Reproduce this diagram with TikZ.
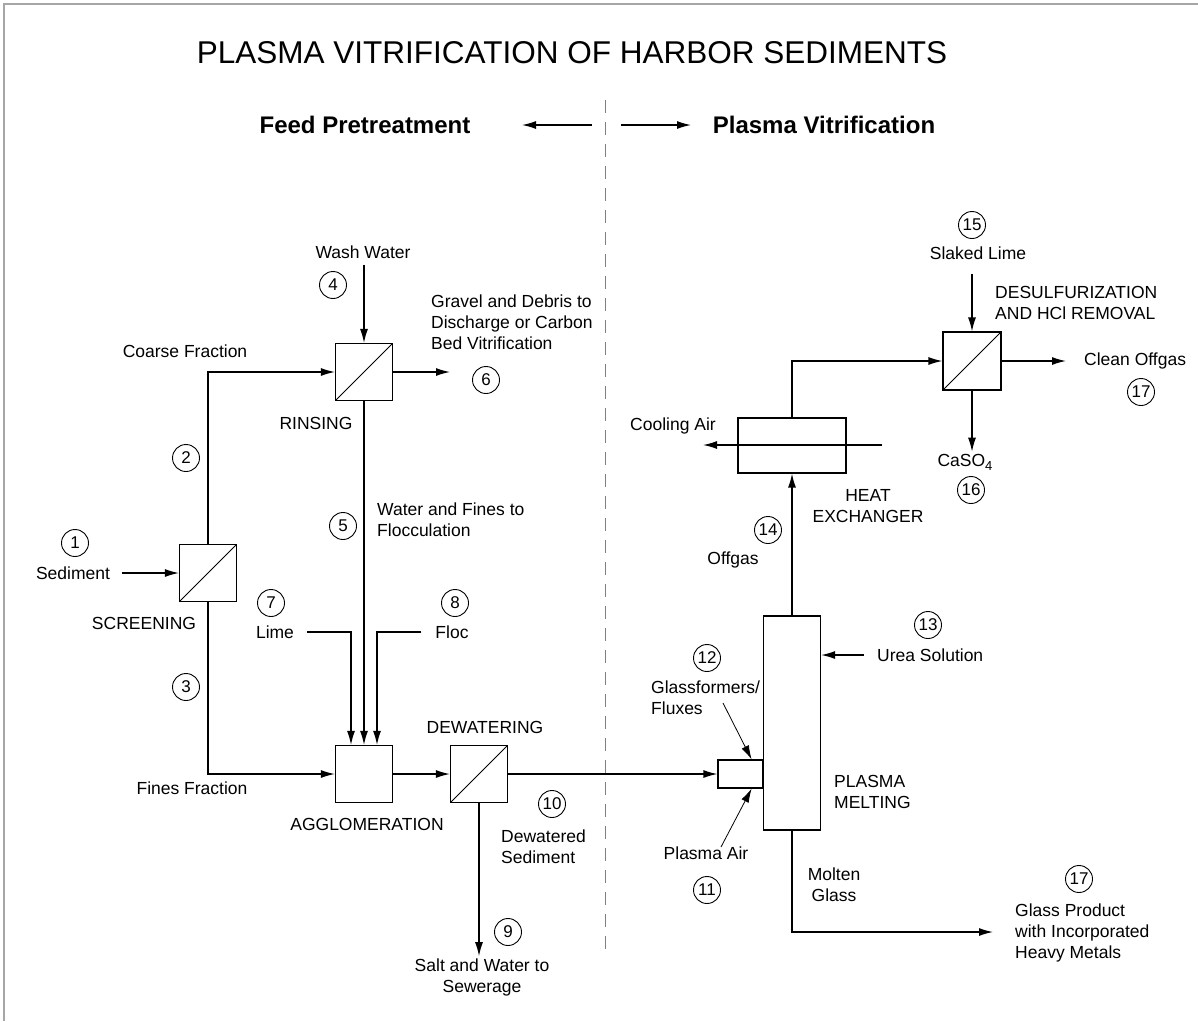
\documentclass[tikz,border=0pt]{standalone}
\usepackage{fontspec}
\setmainfont{Liberation Sans}
\usetikzlibrary{arrows.meta, positioning}

\begin{document}
\begin{tikzpicture}[x=1pt,y=-1pt,
    lbl/.style={font=\fontsize{17.5}{21}\selectfont,inner sep=2pt,align=center},
    lbll/.style={lbl,align=left,anchor=west},
    unitbox/.style={draw,line width=1.2pt,minimum width=57,minimum height=57,inner sep=0pt},
    sepbox/.style={unitbox,path picture={\draw[line width=1pt] (path picture bounding box.south west) -- (path picture bounding box.north east);}},
    num/.style={draw,circle,line width=0.9pt,minimum size=27,inner sep=0pt,font=\fontsize{17}{17}\selectfont},
    flow/.style={-{Latex[length=14pt,width=8pt]},line width=1.3pt}]

    \useasboundingbox (0,0) rectangle (1198,1021);
    \draw[gray!70,line width=2pt] (4,1021) -- (4,4) -- (1198,4);

    % Title and sections
    \node[font=\fontsize{31.5}{36}\selectfont] (title) at (572,53) {PLASMA VITRIFICATION OF HARBOR SEDIMENTS};
    \node[font=\bfseries\fontsize{24}{28}\selectfont] (fp) at (365,125) {Feed Pretreatment};
    \node[font=\bfseries\fontsize{24}{28}\selectfont] (pv) at (824,125) {Plasma Vitrification};
    \coordinate (hl1) at (592,125); \coordinate (hl2) at (522,125);
    \coordinate (hr1) at (621,125); \coordinate (hr2) at (691,125);
    \draw[flow] (hl1) -- (hl2);
    \draw[flow] (hr1) -- (hr2);
    \coordinate (dtop) at (605,100); \coordinate (dbot) at (605,953);
    \draw[gray,line width=1pt,dash pattern=on 13pt off 9pt] (dtop) -- (dbot);

    % Units
    \node[sepbox] (scr) at (208,573) {};
    \node[sepbox] (rinse) at (364,372) {};
    \node[unitbox] (agg) at (364,774) {};
    \node[sepbox] (dw) at (479,774) {};
    \node[draw,line width=1.2pt,minimum width=57,minimum height=214,inner sep=0pt] (melt) at (792,723) {};
    \node[draw,line width=1.2pt,minimum width=45,minimum height=28,inner sep=0pt] (feed) at (740.5,774) {};
    \node[draw,line width=1.2pt,minimum width=108,minimum height=55,inner sep=0pt] (hx) at (792,445.5) {};
    \node[sepbox,minimum width=58,minimum height=58] (ds) at (972,361) {};

    % Stream numbers
    \foreach \nm/\t/\x/\y in {c1/1/75/543, c2/2/186/458, c3/3/186/687, c4/4/333/285,
        c5/5/343/526, c6/6/486/380, c7/7/271/603, c8/8/455/603, c9/9/508/932,
        c10/10/552/804, c11/11/707/890, c12/12/707/658, c13/13/928/625,
        c14/14/768/530, c15/15/972/225, c16/16/971/490, c17a/17/1141/392, c17b/17/1079/879}
      \node[num] (\nm) at (\x,\y) {\t};

    % Labels, feed pretreatment
    \node[lbl] (sed) at (73,573) {Sediment};
    \node[lbl] (coarse) at (185,351) {Coarse Fraction};
    \node[lbl] (fines) at (192,788) {Fines Fraction};
    \node[lbl] (screening) at (144,623) {SCREENING};
    \node[lbl] (wash) at (363,252) {Wash Water};
    \node[lbl] (rinsing) at (316,423) {RINSING};
    \node[lbll] (gravel) at (429,322) {Gravel and Debris to\\Discharge or Carbon\\Bed Vitrification};
    \node[lbll] (water) at (375,520) {Water and Fines to\\Flocculation};
    \node[lbl] (lime) at (275,632) {Lime};
    \node[lbl] (floc) at (452,632) {Floc};
    \node[lbl] (agglo) at (367,824) {AGGLOMERATION};
    \node[lbl] (dewat) at (485,727) {DEWATERING};
    \node[lbl] (salt) at (482,977) {Salt and Water to\\Sewerage};
    \node[lbll] (dwsed) at (499,847) {Dewatered\\Sediment};

    % Labels, plasma vitrification
    \node[lbll] (glassf) at (649,697.5) {Glassformers/\\Fluxes};
    \node[lbl] (plair) at (706,853) {Plasma Air};
    \node[lbll] (urea) at (875,655) {Urea Solution};
    \node[lbll] (pmelt) at (832,792) {PLASMA\\MELTING};
    \node[lbl] (molten) at (834,885) {Molten\\Glass};
    \node[lbll] (gp) at (1013,933) {Glass Product\\with Incorporated\\Heavy Metals};
    \node[lbl] (offgas) at (733,560) {Offgas};
    \node[lbl] (heatx) at (868,506) {HEAT\\EXCHANGER};
    \node[lbl] (cooling) at (673,426) {Cooling Air};
    \node[lbl] (caso) at (965,462) {CaSO\raisebox{-4pt}{\fontsize{13}{13}\selectfont 4}};
    \node[lbl] (slaked) at (978,253) {Slaked Lime};
    \node[lbll] (desulf) at (993,302.5) {DESULFURIZATION\\AND HCl REMOVAL};
    \node[lbll] (clean) at (1082,361) {Clean Offgas};

    % Free ends
    \coordinate (gout) at (450,372);
    \coordinate (glin) at (723,703);
    \coordinate (pain) at (721,847);
    \coordinate (cain) at (882,445);
    \coordinate (caout) at (703,445);
    \coordinate (cout) at (1066,361);
    \coordinate (gpin) at (993,932);

    % Streams
    \draw[flow,shorten <=10pt] (sed) -- (scr);
    \draw[flow] (scr.north) |- (rinse.west);
    \draw[flow] (scr.south) |- (agg.west);
    \draw[flow,shorten <=4pt] (rinse.north |- wash.south) -- (rinse.north);
    \draw[flow] (rinse.east) -- (gout);
    \draw[flow] (rinse.south) -- (agg.north);
    \draw[flow,shorten <=11pt] (lime.east) -| ([xshift=-13pt]agg.north);
    \draw[flow,shorten <=12pt] (floc.west) -| ([xshift=13pt]agg.north);
    \draw[flow] (agg) -- (dw);
    \draw[flow] (dw.south) -- (dw.south |- salt.north);
    \draw[flow] (dw.east) -- (feed.west);
    \draw[flow,line width=0.8pt] (glin) -- ([xshift=-12pt]feed.north east);
    \draw[flow,line width=0.8pt] (pain) -- ([xshift=-12pt]feed.south east);
    \draw[flow,shorten <=11pt] (urea.west) -- (urea.west -| melt.east);
    \draw[flow] (melt.north) -- (hx.south);
    \draw[flow] (cain) -- (caout);
    \draw[flow] (hx.north) |- (ds.west);
    \draw[flow,shorten <=12pt] (slaked.south -| ds.north) -- (ds.north);
    \draw[flow] (ds.south) -- (ds.south |- caso.north);
    \draw[flow] (ds.east) -- (cout);
    \draw[flow] (melt.south) |- (gpin);
\end{tikzpicture}
\end{document}
